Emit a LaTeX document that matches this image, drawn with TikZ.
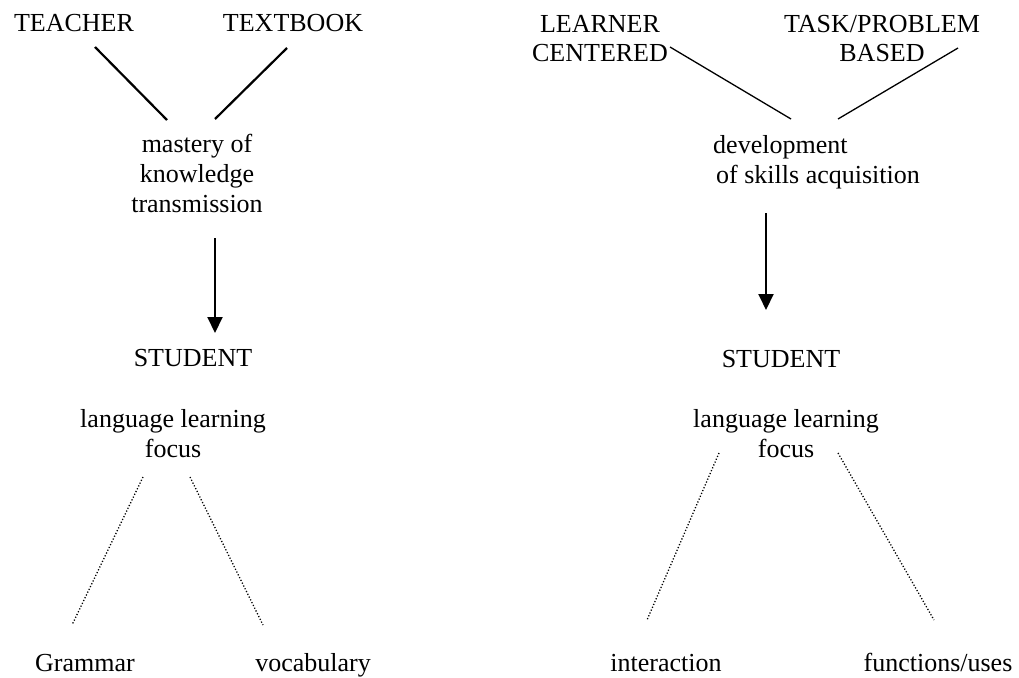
\documentclass[tikz,border=0pt]{standalone}
\usepackage{fontspec}
\setmainfont{Liberation Serif}
\usetikzlibrary{arrows.meta}
\begin{document}
\begin{tikzpicture}[x=1pt,y=-1pt,
  lbl/.style={inner sep=0pt,font=\fontsize{26}{29.7}\selectfont,align=center,anchor=base},
  boldlink/.style={line width=2.2pt},
  thinlink/.style={line width=1.3pt},
  flow/.style={line width=2pt,-{Triangle[length=16pt,width=15pt]}},
  dotlink/.style={line width=1.3pt,dash pattern=on 1.2pt off 1.9pt}]
\useasboundingbox (0,0) rectangle (1019,677);

% left column: teacher-centred model (multi-line nodes sit on their last baseline)
\node[lbl] (teacher) at (74,32) {TEACHER};
\node[lbl] (textbook) at (293,32) {TEXTBOOK};
\node[lbl] (mastery) at (197,212) {mastery of\\knowledge\\transmission};
\node[lbl] (studentL) at (193,366) {STUDENT};
\node[lbl] (focusL) at (173,457) {language learning\\focus};
\node[lbl] (grammar) at (85,671) {Grammar};
\node[lbl] (vocab) at (313,671) {vocabulary};

% right column: learner-centred model
\node[lbl] (learner) at (600,62) {LEARNER\\CENTERED};
\node[lbl] (task) at (882,62) {TASK/PROBLEM\\BASED};
\node[lbl,align=left,anchor=base west] (skills) at (713,183) {development\\\hspace*{3pt}of skills acquisition};
\node[lbl] (studentR) at (781,367) {STUDENT};
\node[lbl] (focusR) at (786,457) {language learning\\focus};
\node[lbl] (interaction) at (666,671) {interaction};
\node[lbl] (functions) at (938,671) {functions/uses};

% connector end points
\coordinate (teacherE) at (95,47);   \coordinate (masteryA) at (167,120);
\coordinate (textbookE) at (287,48); \coordinate (masteryB) at (215,119);
\coordinate (learnerE) at (670,47);  \coordinate (skillsA) at (791,119);
\coordinate (taskE) at (958,48);     \coordinate (skillsB) at (838,119);
\coordinate (masteryC) at (215,238); \coordinate (studentLT) at (215,333);
\coordinate (skillsC) at (766,213);  \coordinate (studentRT) at (766,310);
\coordinate (focusLA) at (143,477);  \coordinate (grammarT) at (72,625);
\coordinate (focusLB) at (190,477);  \coordinate (vocabT) at (263,625);
\coordinate (focusRA) at (719,453);  \coordinate (interactionT) at (647,620);
\coordinate (focusRB) at (838,453);  \coordinate (functionsT) at (934,620);

\draw[boldlink] (teacherE) -- (masteryA);
\draw[boldlink] (textbookE) -- (masteryB);
\draw[thinlink] (learnerE) -- (skillsA);
\draw[thinlink] (taskE) -- (skillsB);
\draw[flow] (masteryC) -- (studentLT);
\draw[flow] (skillsC) -- (studentRT);
\draw[dotlink] (focusLA) -- (grammarT);
\draw[dotlink] (focusLB) -- (vocabT);
\draw[dotlink] (focusRA) -- (interactionT);
\draw[dotlink] (focusRB) -- (functionsT);
\end{tikzpicture}
\end{document}
